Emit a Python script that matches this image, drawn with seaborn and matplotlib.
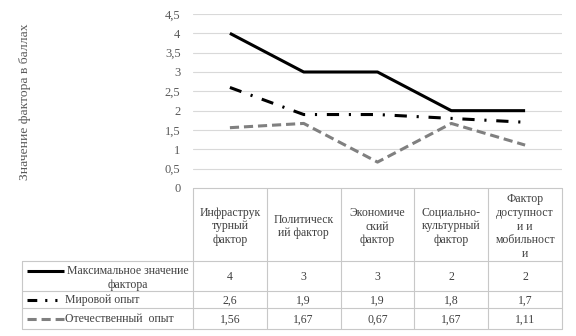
import numpy as np
import pandas as pd
import seaborn as sns
import matplotlib
matplotlib.use("Agg")
import matplotlib.pyplot as plt
from matplotlib import font_manager as fm
from matplotlib.lines import Line2D

# Data
categories = [
    "Инфраструк\nтурный\nфактор",
    "Политическ\nий фактор",
    "Экономиче\nский\nфактор",
    "Социально-\nкультурный\nфактор",
    "Фактор\nдоступност\nи и\nмобильност\nи",
]
series_names = ["Максимальное значение\nфактора", "Мировой опыт", "Отечественный  опыт"]
max_values = [4, 3, 3, 2, 2]
world_values = [2.6, 1.9, 1.9, 1.8, 1.7]
domestic_values = [1.56, 1.67, 0.67, 1.67, 1.11]
y_ticks = [0, 0.5, 1, 1.5, 2, 2.5, 3, 3.5, 4, 4.5]
y_label = "Значение фактора в баллах"

sns.set_theme(style="white")

# Times-like serif face
serif_path = None
for fam in ["Liberation Serif", "DejaVu Serif"]:
    try:
        serif_path = fm.findfont(fm.FontProperties(family=fam), fallback_to_default=False)
        break
    except ValueError:
        continue
if serif_path is not None:
    fm.fontManager.addfont(serif_path)
    serif_name = fm.FontProperties(fname=serif_path).get_name()
    plt.rcParams["font.family"] = [serif_name, "DejaVu Serif"]
else:
    plt.rcParams["font.family"] = ["serif"]

W, H = 576, 336
fig = plt.figure(figsize=(W / 100, H / 100), dpi=100)

# plot area in pixel coordinates
left_px, right_px, top_px, bottom_px = 193, 562, 14, 188
ax = fig.add_axes([left_px / W, 1 - bottom_px / H,
                   (right_px - left_px) / W, (bottom_px - top_px) / H])

n = len(categories)
x = np.arange(n)
df = pd.DataFrame({"x": np.tile(x, 3),
                   "value": max_values + world_values + domestic_values,
                   "series": np.repeat(["max", "world", "dom"], n)})

styles = {
    "max": dict(color="black", dashes=None),
    "world": dict(color="black", dashes=(4, 3.2, 0.7, 3.2)),
    "dom": dict(color="#808080", dashes=(3, 1.6)),
}
lw = 2.2
for key, st in styles.items():
    sub = df[df["series"] == key]
    sns.lineplot(data=sub, x="x", y="value", ax=ax, color=st["color"],
                 linewidth=lw, sort=False, legend=False)
    line = ax.lines[-1]
    line.set_solid_capstyle("butt")
    line.set_dash_capstyle("butt")
    if st["dashes"] is not None:
        line.set_dashes(st["dashes"])

ax.set_xlim(-0.5, n - 0.5)
ax.set_ylim(0, 4.5)
ax.set_yticks(y_ticks)
ax.set_yticklabels([f"{t:g}".replace(".", ",") for t in y_ticks],
                   fontsize=9, color="#595959")
ax.set_xticks([])
ax.set_xlabel("")
ax.set_ylabel("")
ax.tick_params(axis="y", length=0, pad=9)
for s in ax.spines.values():
    s.set_visible(False)
for t in y_ticks[1:]:
    ax.axhline(t, color="#d9d9d9", lw=0.8, zorder=0)

fig.text(25 / W, 1 - 102 / H, y_label, rotation=90, ha="center", va="center",
         fontsize=9.7, color="#595959")

# Data table under the plot, drawn on a full-figure overlay in pixel units
tab = fig.add_axes([0, 0, 1, 1], facecolor="none")
tab.set_xlim(0, W)
tab.set_ylim(H, 0)
tab.axis("off")

grid_c = "#c8c8c8"
glw = 0.8
col_edges = np.linspace(left_px, right_px, n + 1)
header_bottom = 261
row_edges = [header_bottom, 291, 308, 329]
legend_left = 22

# horizontal borders
tab.plot([left_px, right_px], [bottom_px, bottom_px], color=grid_c, lw=glw)
for yy in row_edges:
    tab.plot([legend_left, right_px], [yy, yy], color=grid_c, lw=glw)
# vertical borders
for xe in col_edges:
    tab.plot([xe, xe], [bottom_px, row_edges[-1]], color=grid_c, lw=glw)
tab.plot([legend_left, legend_left], [header_bottom, row_edges[-1]],
         color=grid_c, lw=glw)

txt_c = "#404040"
fs = 8.5
centers = (col_edges[:-1] + col_edges[1:]) / 2
for cx, cat in zip(centers, categories):
    tab.text(cx, (bottom_px + header_bottom) / 2 + 2, cat, ha="center", va="center",
             fontsize=fs, color=txt_c, linespacing=1.2, multialignment="center")

rows = [max_values, world_values, domestic_values]
for r, vals in enumerate(rows):
    cy = (row_edges[r] + row_edges[r + 1]) / 2
    for cx, v in zip(centers, vals):
        tab.text(cx, cy + 1, f"{v:g}".replace(".", ","), ha="center", va="center",
                 fontsize=fs, color=txt_c)

# legend keys inside the table
key_x0, key_x1 = 27, 64
for r, key in enumerate(["max", "world", "dom"]):
    cy = (row_edges[r] + row_edges[r + 1]) / 2
    ky = cy - 5 if r == 0 else cy
    st = styles[key]
    ln = Line2D([key_x0, key_x1], [ky, ky],
                color=st["color"], lw=lw, solid_capstyle="butt", dash_capstyle="butt")
    if st["dashes"] is not None:
        ln.set_dashes((3.2, 2.6, 0.7, 2.6, 0.7, 2.6) if key == "world" else st["dashes"])
    tab.add_line(ln)

tab.text(128, (row_edges[0] + row_edges[1]) / 2 + 2, series_names[0],
         ha="center", va="center", fontsize=fs, color=txt_c,
         linespacing=1.15, multialignment="center")
tab.text(65, (row_edges[1] + row_edges[2]) / 2 + 1, series_names[1],
         ha="left", va="center", fontsize=fs, color=txt_c)
tab.text(65, (row_edges[2] + row_edges[3]) / 2 + 1, series_names[2],
         ha="left", va="center", fontsize=fs, color=txt_c)

fig.savefig("out.png", dpi=100, facecolor="white")
